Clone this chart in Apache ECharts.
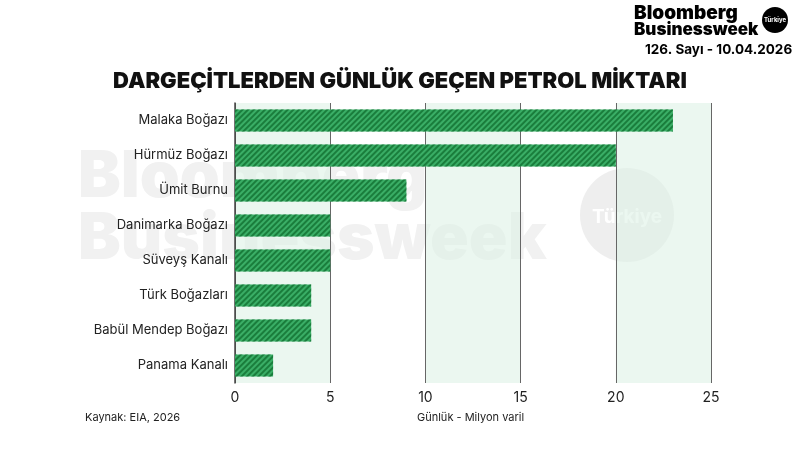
<!DOCTYPE html>
<html><head><meta charset="utf-8">
<script src="https://cdn.jsdelivr.net/npm/echarts@6/dist/echarts.min.js"></script>
<style>html,body{margin:0;padding:0;background:#fff}#c{width:800px;height:450px}</style>
</head><body><div id="c"></div>
<script>
const categories = ['Malaka Boğazı','Hürmüz Boğazı','Ümit Burnu','Danimarka Boğazı','Süveyş Kanalı','Türk Boğazları','Babül Mendep Boğazı','Panama Kanalı'];
const values = [23, 20, 9, 5, 5, 4, 4, 2];
const xTicks = [0, 5, 10, 15, 20, 25];

const chart = echarts.init(document.getElementById('c'));
const F = 'Inter, "Noto Sans", sans-serif';
chart.setOption({
  backgroundColor: '#fff',
  animation: false,
  graphic: [
    {type:'text', left: 78, top: 146, z: -10, silent:true, style:{text:'Bloomberg', font:'900 64px '+F, fill:'#f1f1f1'}},
    {type:'text', left: 78, top: 208, z: -10, silent:true, style:{text:'Businessweek', font:'900 64px '+F, fill:'#f1f1f1'}},
    {type:'circle', shape:{cx:627, cy:215, r:47}, z:-10, silent:true, style:{fill:'#eeeeee'}},
    {type:'text', x:627, y:217, z:-9, silent:true, style:{text:'Türkiye', font:'bold 19px '+F, fill:'#fff', align:'center', verticalAlign:'middle'}},
    {type:'text', left: 634, top: 4, style:{text:'Bloomberg', font:'900 19px '+F, fill:'#000'}},
    {type:'text', left: 634, top: 21, style:{text:'Businessweek', font:'900 17px '+F, fill:'#000'}},
    {type:'circle', shape:{cx:775, cy:20, r:13}, style:{fill:'#000'}},
    {type:'text', x:775, y:20, style:{text:'Türkiye', font:'bold 6px '+F, fill:'#fff', align:'center', verticalAlign:'middle'}},
    {type:'text', left: 645, top: 43, style:{text:'126. Sayı - 10.04.2026', font:'bold 13.5px '+F, fill:'#000'}},
    {type:'text', left: 85, top: 412, style:{text:'Kaynak: EIA, 2026', font:'11px '+F, fill:'#222'}},
    {type:'text', left: 417, top: 412, style:{text:'Günlük - Milyon varil', font:'11px '+F, fill:'#222'}}
  ],
  title: {
    text: 'DARGEÇİTLERDEN GÜNLÜK GEÇEN PETROL MİKTARI',
    left: 'center', top: 65,
    textStyle: {fontFamily: F, fontWeight: 900, fontSize: 22, color: '#111'}
  },
  grid: {left: 235, right: 89, top: 103, bottom: 67, containLabel: false},
  xAxis: {
    type: 'value', min: 0, max: 25, interval: 5,
    axisLine: {show: false}, axisTick: {show: false},
    axisLabel: {fontFamily: F, fontSize: 14, color: '#222', margin: 8},
    splitLine: {show: true, lineStyle: {color: '#666', width: 1}},
    splitArea: {show: true, areaStyle: {color: ['rgba(222,241,230,0.6)', 'rgba(255,255,255,0)']}}
  },
  yAxis: {
    type: 'category', data: categories, inverse: true,
    axisLine: {show: true, lineStyle: {color: '#444', width: 1.5}},
    axisTick: {show: false},
    axisLabel: {fontFamily: F, fontSize: 13, color: '#222', margin: 7}
  },
  series: [{
    type: 'bar', data: values, barWidth: 22,
    itemStyle: {
      color: '#3aae66',
      decal: {symbol: 'rect', dashArrayX: [1, 0], dashArrayY: [2, 2], rotation: -Math.PI / 4, color: 'rgba(22,120,55,0.9)'}
    }
  }]
});
</script></body></html>
